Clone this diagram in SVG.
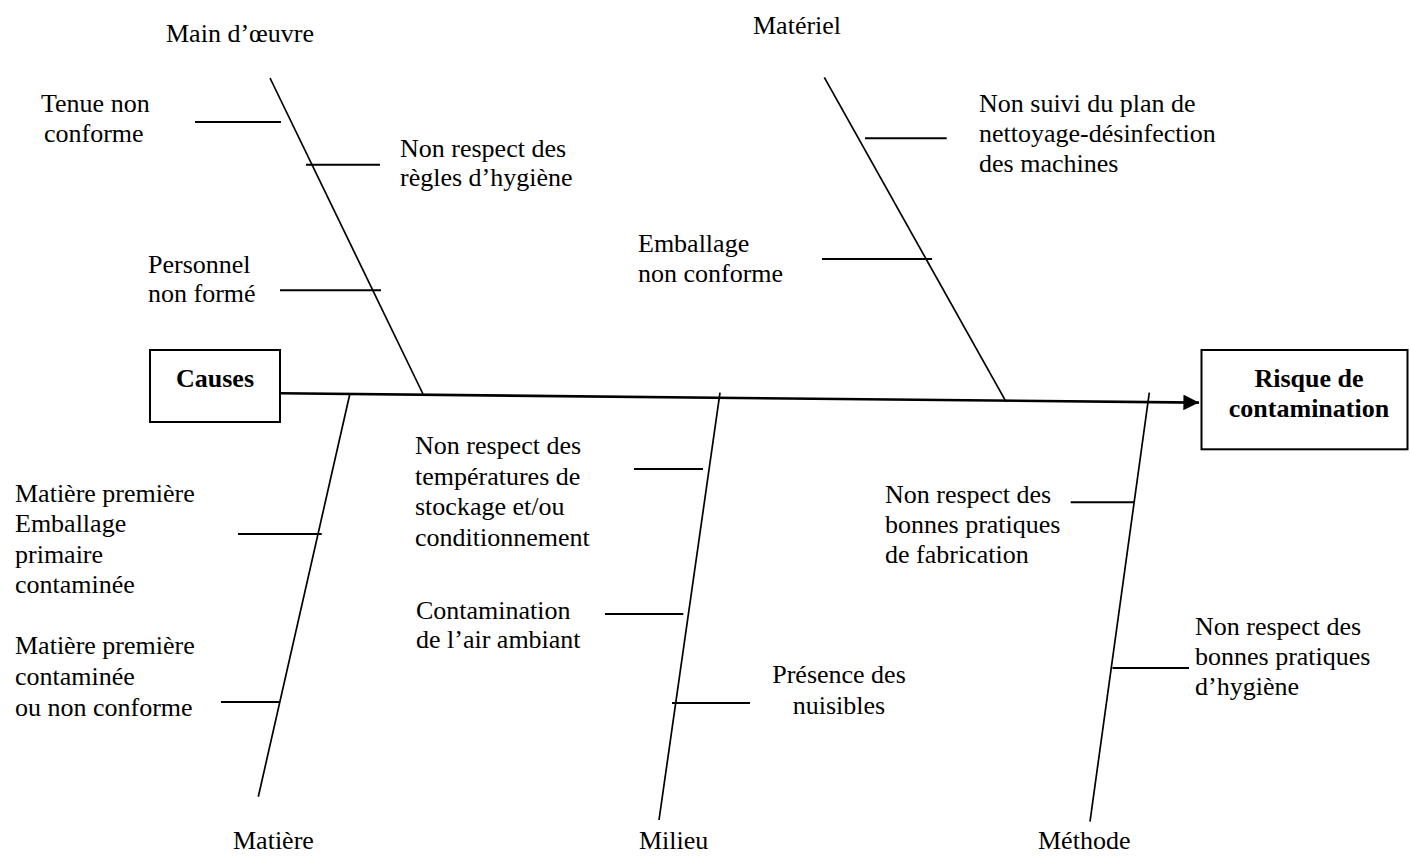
<svg xmlns="http://www.w3.org/2000/svg" width="1410" height="857" viewBox="0 0 1410 857">
  <style>
    text { font-family: "Liberation Serif", "Times New Roman", serif; font-size: 26px; fill: #000; }
    .bold { font-weight: bold; }
    .mid { text-anchor: middle; }
    .box { fill: #fff; stroke: #000; stroke-width: 2; }
    .bone { stroke: #000; stroke-width: 1.7; fill: none; }
    .twig { stroke: #000; stroke-width: 2; fill: none; }
    .spine { stroke: #000; stroke-width: 2.6; fill: none; }
  </style>
  <defs>
    <marker id="arrow" markerWidth="6" markerHeight="6" refX="6" refY="3" orient="auto" markerUnits="strokeWidth">
      <path d="M0,0 L6,3 L0,6 Z" fill="#000"/>
    </marker>
  </defs>
  <rect width="1410" height="857" fill="#fff"/>

  <!-- fishbone: spine, main bones and sub-causes -->
  <g id="connectors">
    <line class="spine" x1="280" y1="393.3" x2="1199" y2="402.6" marker-end="url(#arrow)"/>
    <!-- upper bones -->
    <line class="bone" x1="270" y1="78" x2="423" y2="394"/>
    <line class="bone" x1="824.3" y1="77.3" x2="1006" y2="401.7"/>
    <!-- lower bones -->
    <line class="bone" x1="350" y1="393.3" x2="258.3" y2="796.7"/>
    <line class="bone" x1="720" y1="392.7" x2="659" y2="820"/>
    <line class="bone" x1="1149.3" y1="392.7" x2="1090" y2="821.7"/>
    <!-- sub-cause ticks -->
    <line class="twig" x1="195" y1="122" x2="281" y2="122"/>
    <line class="twig" x1="306" y1="164.7" x2="380" y2="164.7"/>
    <line class="twig" x1="280" y1="290.3" x2="381" y2="290.3"/>
    <line class="twig" x1="865" y1="138.3" x2="946.7" y2="138.3"/>
    <line class="twig" x1="822" y1="259" x2="932" y2="259"/>
    <line class="twig" x1="238" y1="534" x2="321.7" y2="534"/>
    <line class="twig" x1="221" y1="702" x2="280" y2="702"/>
    <line class="twig" x1="634" y1="469" x2="703" y2="469"/>
    <line class="twig" x1="605" y1="614" x2="683.3" y2="614"/>
    <line class="twig" x1="672" y1="703" x2="750" y2="703"/>
    <line class="twig" x1="1070.7" y1="502.3" x2="1134" y2="502.3"/>
    <line class="twig" x1="1112.5" y1="668" x2="1189" y2="668"/>
  </g>

  <g id="causes">
    <rect class="box" x="150" y="350" width="130" height="72"/>
    <text class="bold" x="176" y="386.7">Causes</text>
  </g>

  <g id="risque">
    <rect class="box" x="1201.5" y="350" width="206" height="99.3"/>
    <text class="bold mid" x="1309" y="386.7">Risque de</text>
    <text class="bold mid" x="1309" y="417.3">contamination</text>
  </g>

  <g id="main-oeuvre">
    <text x="166" y="42">Main d’œuvre</text>
  </g>
  <g id="tenue">
    <text x="41" y="112">Tenue non</text>
    <text x="44" y="142">conforme</text>
  </g>
  <g id="regles-hygiene">
    <text x="400" y="157">Non respect des</text>
    <text x="400" y="186">règles d’hygiène</text>
  </g>
  <g id="personnel">
    <text x="148" y="273">Personnel</text>
    <text x="148" y="302">non formé</text>
  </g>

  <g id="materiel">
    <text x="753" y="34">Matériel</text>
  </g>
  <g id="nettoyage">
    <text x="979" y="112">Non suivi du plan de</text>
    <text x="979" y="142">nettoyage-désinfection</text>
    <text x="979" y="172">des machines</text>
  </g>
  <g id="emballage">
    <text x="638" y="252">Emballage</text>
    <text x="638" y="282">non conforme</text>
  </g>

  <g id="matiere">
    <text x="233" y="849">Matière</text>
  </g>
  <g id="emballage-primaire">
    <text x="15" y="501.5">Matière première</text>
    <text x="15" y="532">Emballage</text>
    <text x="15" y="562.5">primaire</text>
    <text x="15" y="593">contaminée</text>
  </g>
  <g id="matiere-contaminee">
    <text x="15" y="654">Matière première</text>
    <text x="15" y="685">contaminée</text>
    <text x="15" y="715.5">ou non conforme</text>
  </g>

  <g id="milieu">
    <text x="639" y="849">Milieu</text>
  </g>
  <g id="temperatures">
    <text x="415" y="454">Non respect des</text>
    <text x="415" y="484.5">températures de</text>
    <text x="415" y="515">stockage et/ou</text>
    <text x="415" y="545.5">conditionnement</text>
  </g>
  <g id="air">
    <text x="416" y="619.3">Contamination</text>
    <text x="416" y="648.3">de l’air ambiant</text>
  </g>
  <g id="nuisibles">
    <text class="mid" x="839" y="683">Présence des</text>
    <text class="mid" x="839" y="713.5">nuisibles</text>
  </g>

  <g id="methode">
    <text x="1038" y="849">Méthode</text>
  </g>
  <g id="bpf">
    <text x="885" y="503">Non respect des</text>
    <text x="885" y="533">bonnes pratiques</text>
    <text x="885" y="563">de fabrication</text>
  </g>
  <g id="bph">
    <text x="1195" y="635">Non respect des</text>
    <text x="1195" y="665">bonnes pratiques</text>
    <text x="1195" y="695">d’hygiène</text>
  </g>
</svg>
